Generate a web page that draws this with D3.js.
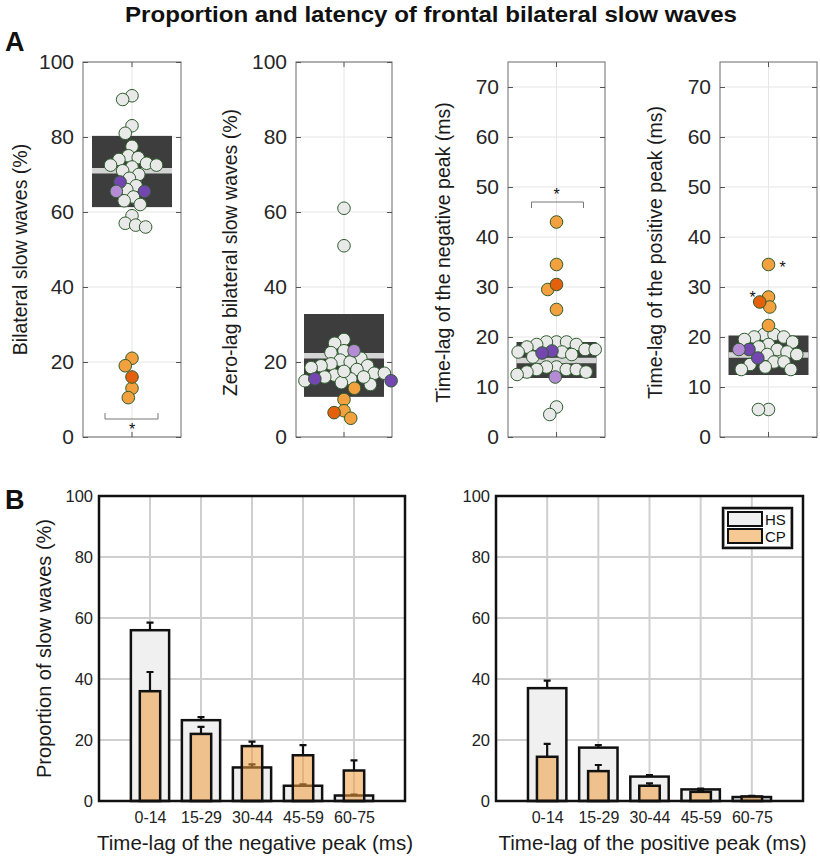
<!DOCTYPE html>
<html><head><meta charset="utf-8">
<script src="https://cdn.jsdelivr.net/npm/d3@7"></script>
<style>body{margin:0;background:#fff}svg{display:block}</style>
</head><body>
<svg id="chart" width="820" height="857"></svg>
<script>
// ---------------- DATA ----------------
const titleText = "Proportion and latency of frontal bilateral slow waves";
const panelALabels = ["Bilateral slow waves (%)","Zero-lag bilateral slow waves (%)","Time-lag of the negative peak (ms)","Time-lag of the positive peak (ms)"];
const panelAMax = [100, 100, 75, 75];
const panelATicks = [[0,20,40,60,80,100],[0,20,40,60,80,100],[0,10,20,30,40,50,60,70],[0,10,20,30,40,50,60,70]];
const boxLow  = [61.3, 10.7, 11.8, 12.4];
const boxHigh = [80.3, 32.8, 19.0, 20.3];
const boxMean = [71.0, 21.7, 15.3, 16.4];

const hsBilateral = [91, 90, 83, 81, 77.5, 75, 74.5, 74, 73, 72.5, 72.5, 72, 71, 70, 69, 67, 66, 64, 63, 62, 59, 57, 56.5, 56];
const hsZeroLag   = [61, 51, 26, 25, 23, 22.5, 21, 20.5, 20, 19.5, 19, 19, 18.5, 18, 17, 17, 16.5, 16, 15.5, 15, 14.5, 14, 17.5, 16];
const hsNegPeak   = [19, 19, 19, 18.5, 18.5, 18, 17.5, 17.5, 17, 16.5, 17, 16, 14, 14, 13.5, 13.5, 13.5, 13, 13, 12.5, 6, 4.5];
const hsPosPeak   = [20.5, 20.5, 20, 20, 19.5, 19, 18.5, 18, 17.5, 17, 16.5, 16.5, 15, 15, 14.5, 14, 13.5, 13.5, 5.5, 5.5];

const purpleDarkBilateral = [68, 65.5];
const purpleDarkZeroLag   = [15, 15.5];
const purpleDarkNegPeak   = [17.2, 16.8];
const purpleDarkPosPeak   = [17.5, 15.8];
const purpleLightBilateral = [65.5];
const purpleLightZeroLag   = [23];
const purpleLightNegPeak   = [12];
const purpleLightPosPeak   = [17.5];

const cpBilateral = [21, 19, 13, 10.5];
const cpZeroLag   = [13, 10, 7, 5];
const cpNegPeak   = [43, 34.5, 29.5, 25.5];
const cpPosPeak   = [34.5, 28, 26, 22.3];
const cpDarkBilateral = [16];
const cpDarkZeroLag   = [6.5];
const cpDarkNegPeak   = [30.5];
const cpDarkPosPeak   = [27];

// Panel B
const lagCategories = ["0-14","15-29","30-44","45-59","60-75"];
const negHS    = [56, 26.5, 11, 5, 1.8];
const negHSErr = [58.5, 27.5, 12, 5.5, 2.1];
const negCP    = [36, 22, 18, 15, 10];
const negCPErr = [42.3, 24.3, 19.5, 18.3, 13.3];
const posHS    = [37, 17.5, 8, 3.8, 1.3];
const posHSErr = [39.5, 18.3, 8.5, 4.1, 1.6];
const posCP    = [14.5, 9.8, 5, 3, 1.5];
const posCPErr = [18.7, 11.8, 5.8, 3.6, 1.7];
const panelBLabels = ["Time-lag of the negative peak (ms)","Time-lag of the positive peak (ms)"];
const panelBTicks = [0,20,40,60,80,100];
const legendLabels = ["HS","CP"];

// ---------------- DRAWING ----------------
const svg = d3.select("#chart");
const FONT = "'Liberation Sans', Arial, sans-serif";

svg.append("text").attr("x", 431).attr("y", 22).attr("text-anchor","middle")
  .attr("font-family","'Liberation Sans Narrow', 'Liberation Sans', Arial, sans-serif").attr("font-weight","bold")
  .attr("font-size", 22).attr("textLength", 612).attr("lengthAdjust","spacingAndGlyphs")
  .attr("fill","#111").text(titleText);
svg.append("text").attr("x", 5).attr("y", 51).attr("font-family",FONT).attr("font-weight","bold")
  .attr("font-size", 27).attr("fill","#111").text("A");
svg.append("text").attr("x", 5).attr("y", 509).attr("font-family",FONT).attr("font-weight","bold")
  .attr("font-size", 27).attr("fill","#111").text("B");

const colors = {hs:"#e8e9e8", pd:"#7446b0", pl:"#b68bd6", cp:"#f2a13e", cd:"#e4600c"};
const strokeDot = "#2f5d2f";

const axesA = [{x0:83,x1:181},{x0:296,x1:392},{x0:508,x1:605},{x0:720,x1:817}];
const yTop = 62, yBot = 437;
const groupsA = [
  {hs:hsBilateral, pd:purpleDarkBilateral, pl:purpleLightBilateral, cp:cpBilateral, cd:cpDarkBilateral},
  {hs:hsZeroLag, pd:purpleDarkZeroLag, pl:purpleLightZeroLag, cp:cpZeroLag, cd:cpDarkZeroLag},
  {hs:hsNegPeak, pd:purpleDarkNegPeak, pl:purpleLightNegPeak, cp:cpNegPeak, cd:cpDarkNegPeak},
  {hs:hsPosPeak, pd:purpleDarkPosPeak, pl:purpleLightPosPeak, cp:cpPosPeak, cd:cpDarkPosPeak}
];
const R = 6.3;

function swarm(points, y, dist) {
  const placed = [];
  const order = points.slice().sort((a,b)=>d3.descending(a.v,b.v));
  order.forEach(p => {
    const py = y(p.v);
    const cands = [0];
    placed.forEach(q => {
      const dy = py - q.py;
      if (Math.abs(dy) < dist) {
        const dx = Math.sqrt(dist*dist - dy*dy);
        cands.push(q.dx + dx, q.dx - dx);
      }
    });
    cands.sort((a,b)=>Math.abs(a)-Math.abs(b) || a-b);
    let best = 0;
    for (const c of cands) {
      if (placed.every(q => (c-q.dx)**2 + (py-q.py)**2 >= dist*dist - 1e-6)) { best = c; break; }
    }
    p.dx = best; p.py = py;
    placed.push(p);
  });
  return points;
}

axesA.forEach((ax, i) => {
  const g = svg.append("g");
  const y = d3.scaleLinear().domain([0, panelAMax[i]]).range([yBot, yTop]);
  const cx = (ax.x0 + ax.x1)/2;
  g.selectAll(".gh").data(panelATicks[i]).join("line")
    .attr("x1", ax.x0).attr("x2", ax.x1).attr("y1", d=>y(d)).attr("y2", d=>y(d))
    .attr("stroke","#e6e6e6").attr("stroke-width",1);
  g.append("line").attr("x1",cx).attr("x2",cx).attr("y1",yTop).attr("y2",yBot)
    .attr("stroke","#e6e6e6").attr("stroke-width",1);
  g.append("rect").attr("x", cx-40).attr("width", 80)
    .attr("y", y(boxHigh[i])).attr("height", y(boxLow[i]) - y(boxHigh[i]))
    .attr("fill","#3d3d3d");
  g.append("line").attr("x1",cx-40).attr("x2",cx+40).attr("y1",y(boxMean[i])).attr("y2",y(boxMean[i]))
    .attr("stroke","#d4d4d4").attr("stroke-width",5.5);
  g.append("rect").attr("x",ax.x0).attr("y",yTop).attr("width",ax.x1-ax.x0).attr("height",yBot-yTop)
    .attr("fill","none").attr("stroke","#6a6a6a").attr("stroke-width",1);
  const axL = d3.axisLeft(y).tickValues(panelATicks[i]).tickSize(-5).tickPadding(9).tickFormat(d3.format("d"));
  const gl = g.append("g").attr("transform",`translate(${ax.x0},0)`).call(axL);
  gl.select(".domain").remove();
  gl.selectAll("line").attr("stroke","#555");
  gl.selectAll("text").attr("font-family",FONT).attr("font-size",21).attr("fill","#262626");
  const axR = d3.axisRight(y).tickValues(panelATicks[i]).tickSize(-5).tickFormat("");
  const gr = g.append("g").attr("transform",`translate(${ax.x1},0)`).call(axR);
  gr.select(".domain").remove();
  gr.selectAll("line").attr("stroke","#555");
  g.append("line").attr("x1",cx).attr("x2",cx).attr("y1",yBot).attr("y2",yBot-5).attr("stroke","#555");
  g.append("line").attr("x1",cx).attr("x2",cx).attr("y1",yTop).attr("y2",yTop+5).attr("stroke","#555");
  const labelX = [22, 232, 445, 657][i];
  g.append("text").attr("transform",`translate(${labelX},${(yTop+yBot)/2 + (i===0?0:3)}) rotate(-90)`)
    .attr("text-anchor","middle").attr("dominant-baseline","middle")
    .attr("font-family",FONT).attr("font-size",19.5).attr("fill","#1a1a1a").text(panelALabels[i]);
  const grp = groupsA[i];
  const pts = [];
  ["hs","pd","pl","cp","cd"].forEach(k => grp[k].forEach(v => pts.push({v, k})));
  swarm(pts, y, R*1.6);
  const drawOrder = ["hs","cp","cd","pd","pl"];
  drawOrder.forEach(k => {
    g.selectAll(".dot-"+k).data(pts.filter(p=>p.k===k)).join("circle")
      .attr("cx", d=>cx + d.dx).attr("cy", d=>y(d.v)).attr("r", R)
      .attr("fill", colors[k]).attr("stroke", strokeDot).attr("stroke-width",1);
  });
  if (i === 0) {
    const by = y(4.8);
    g.append("path").attr("d",`M${cx-27},${by-6}V${by}H${cx+26}V${by-6}`).attr("fill","none").attr("stroke","#777").attr("stroke-width",1);
    g.append("text").attr("x",cx).attr("y",by+16).attr("text-anchor","middle").attr("font-family",FONT).attr("font-size",16).attr("fill","#111").text("*");
  }
  if (i === 2) {
    const by = y(47);
    g.append("path").attr("d",`M${cx-25},${by+6}V${by}H${cx+27}V${by+6}`).attr("fill","none").attr("stroke","#777").attr("stroke-width",1);
    g.append("text").attr("x",cx).attr("y",by-2).attr("text-anchor","middle").attr("font-family",FONT).attr("font-size",16).attr("fill","#111").text("*");
  }
  if (i === 3) {
    g.append("text").attr("x",cx+14).attr("y",y(34.6)+9).attr("text-anchor","middle").attr("font-family",FONT).attr("font-size",16).attr("fill","#111").text("*");
    g.append("text").attr("x",cx-16).attr("y",y(28.6)+9).attr("text-anchor","middle").attr("font-family",FONT).attr("font-size",16).attr("fill","#111").text("*");
  }
});

// ---------------- PANEL B ----------------
const axesB = [
  {x0:99, x1:405, hs:negHS, hsE:negHSErr, cp:negCP, cpE:negCPErr},
  {x0:496, x1:803, hs:posHS, hsE:posHSErr, cp:posCP, cpE:posCPErr}
];
const bTop = 496, bBot = 801;
axesB.forEach((ax, i) => {
  const g = svg.append("g");
  const x = d3.scalePoint().domain(lagCategories).range([ax.x0, ax.x1]).padding(1);
  const step = x.step();
  const y = d3.scaleLinear().domain([0,100]).range([bBot, bTop]);
  g.selectAll(".gh").data(panelBTicks.slice(1,-1)).join("line")
    .attr("x1",ax.x0).attr("x2",ax.x1).attr("y1",d=>y(d)).attr("y2",d=>y(d))
    .attr("stroke","#cfcfcf").attr("stroke-width",2);
  g.selectAll(".gv").data(lagCategories).join("line")
    .attr("x1",d=>x(d)).attr("x2",d=>x(d)).attr("y1",bTop).attr("y2",bBot)
    .attr("stroke","#cfcfcf").attr("stroke-width",2);
  const hsW = step*0.75, cpW = step*0.4;
  g.selectAll(".hs").data(lagCategories).join("rect")
    .attr("x",d=>x(d)-hsW/2).attr("width",hsW)
    .attr("y",(d,j)=>y(ax.hs[j])).attr("height",(d,j)=>bBot-y(ax.hs[j]))
    .attr("fill","#f0f0f0").attr("stroke","#111").attr("stroke-width",2.5);
  g.selectAll(".hse").data(lagCategories).join("path")
    .attr("d",(d,j)=>`M${x(d)},${y(ax.hs[j])}V${y(ax.hsE[j])}M${x(d)-3.5},${y(ax.hsE[j])}H${x(d)+3.5}`)
    .attr("stroke","#111").attr("stroke-width",2.2).attr("fill","none");
  g.selectAll(".cp").data(lagCategories).join("rect")
    .attr("x",d=>x(d)-cpW/2).attr("width",cpW)
    .attr("y",(d,j)=>y(ax.cp[j])).attr("height",(d,j)=>bBot-y(ax.cp[j]))
    .attr("fill","#ee9a3c").attr("fill-opacity",0.55).attr("stroke","#111").attr("stroke-width",2.5);
  g.selectAll(".cpe").data(lagCategories).join("path")
    .attr("d",(d,j)=>`M${x(d)},${y(ax.cp[j])}V${y(ax.cpE[j])}M${x(d)-3.5},${y(ax.cpE[j])}H${x(d)+3.5}`)
    .attr("stroke","#111").attr("stroke-width",2.2).attr("fill","none");
  g.append("rect").attr("x",ax.x0).attr("y",bTop).attr("width",ax.x1-ax.x0).attr("height",bBot-bTop)
    .attr("fill","none").attr("stroke","#111").attr("stroke-width",2.5);
  const gy = g.append("g").attr("transform",`translate(${ax.x0},0)`)
    .call(d3.axisLeft(y).tickValues(panelBTicks).tickSize(0).tickPadding(6));
  gy.select(".domain").remove();
  gy.selectAll("text").attr("font-family",FONT).attr("font-size",16.5).attr("fill","#222");
  const gx = g.append("g").attr("transform",`translate(0,${bBot})`)
    .call(d3.axisBottom(x).tickSize(0).tickPadding(11));
  gx.select(".domain").remove();
  gx.selectAll("text").attr("font-family",FONT).attr("font-size",16).attr("fill","#222");
  g.append("text").attr("x",(ax.x0+ax.x1)/2 + 3).attr("y",850).attr("text-anchor","middle")
    .attr("font-family",FONT).attr("font-size",20.5).attr("fill","#1a1a1a").text(panelBLabels[i]);
  if (i === 0) {
    g.append("text").attr("transform",`translate(46,${(bTop+bBot)/2}) rotate(-90)`)
      .attr("text-anchor","middle").attr("dominant-baseline","middle")
      .attr("font-family",FONT).attr("font-size",20).attr("fill","#1a1a1a").text("Proportion of slow waves (%)");
  }
  if (i === 1) {
    const lg = g.append("g").attr("transform","translate(723,508)");
    lg.append("rect").attr("width",69).attr("height",40).attr("fill","#fff").attr("stroke","#111").attr("stroke-width",2.5);
    lg.append("rect").attr("x",1.5).attr("y",1.5).attr("width",66).attr("height",37).attr("fill","none").attr("stroke","#999").attr("stroke-width",1);
    const sw = [{f:"#f0f0f0",o:1},{f:"#ee9a3c",o:0.55}];
    legendLabels.forEach((lab, j) => {
      lg.append("rect").attr("x",5).attr("y",4+j*17).attr("width",34).attr("height",14)
        .attr("fill",sw[j].f).attr("fill-opacity",sw[j].o).attr("stroke","#111").attr("stroke-width",2);
      lg.append("text").attr("x",42).attr("y",17+j*17).attr("font-family",FONT).attr("font-size",15).attr("fill","#111").text(lab);
    });
  }
});
</script>
</body></html>
